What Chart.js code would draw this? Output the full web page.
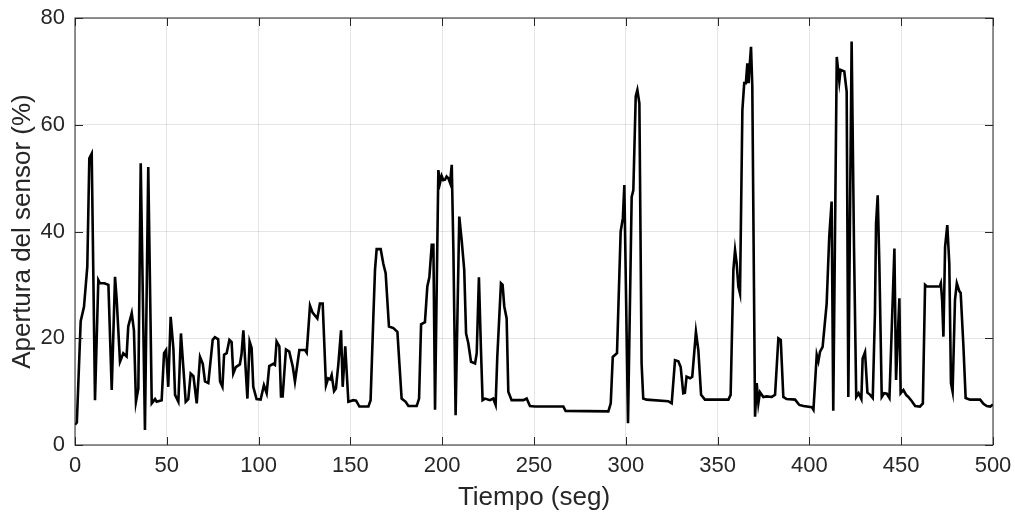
<!DOCTYPE html>
<html>
<head>
<meta charset="utf-8">
<script src="https://cdn.jsdelivr.net/npm/chart.js@4/dist/chart.umd.min.js"></script>
<style>
  html, body { margin: 0; padding: 0; background: #ffffff; }
  #wrap { width: 1015px; height: 517px; }
</style>
</head>
<body>
<div id="wrap"><canvas id="c" width="1015" height="517"></canvas></div>
<script>
// Tiempo (seg)
const tiempo = [
  0, 1, 3.1, 4.9, 6.7, 7.8, 9.1, 10.9, 12.7, 13.6, 16, 18.2, 20, 21.8, 22.7, 24.5, 26.3, 28.1, 29, 30.9,
  32.1, 33.2, 34.5, 35.8, 38.1, 39.9, 41.8, 43.6, 44.5, 47.2, 48.5, 49.6, 50.8, 52.1, 53.6, 54.5, 56.3, 57.7, 59, 60.3,
  61.7, 63, 64.5, 66.3, 68.1, 69.6, 70.8, 72.6, 75, 76.2, 78, 79, 80.3, 81.2, 82.6, 84.1, 85.3, 86.2, 87.6, 89.8,
  90.7, 91.7, 93.9, 95.1, 96.2, 97.1, 98.9, 101.1, 102.9, 104.4, 105.8, 108, 108.9, 109.8, 111.3, 112.2, 113.1, 114.9, 116.7, 118.6,
  119.8, 122.2, 125.3, 126.2, 128, 129.4, 132, 133.4, 134.9, 136.7, 137.9, 139, 139.8, 141.1, 142.1, 143.4, 144.9, 145.8, 147.2, 148.9,
  151.6, 153.1, 154.9, 159.8, 161, 162.5, 163.4, 164.3, 166.5, 167.9, 169.2, 171, 173.4, 175.6, 176.7, 177.9, 180.1, 181.6, 186.1, 187.4,
  188.5, 190.6, 191.9, 193, 194.3, 195.2, 196.1, 197.9, 198.8, 199.7, 200.6, 201.5, 202.4, 203.3, 204.3, 205.2, 206.1, 207.3, 209.3, 210.6,
  212, 213, 214.2, 215.7, 217.9, 218.8, 220, 221.1, 222, 223.3, 226, 227.8, 229.1, 230, 232, 232.9, 233.8, 235.1, 236, 237.8,
  240.5, 244.2, 246, 247.8, 250.5, 266, 267.2, 290.5, 291.8, 292.9, 295.2, 297.2, 298.4, 299.2, 301.2, 303.2, 304.1, 305.4, 306.3, 307.4,
  308.6, 309.5, 311.3, 323.1, 325, 326.8, 328.6, 329.9, 331.3, 332.2, 333.1, 335, 336.2, 338.2, 339.5, 341, 343.1, 355.9, 357.1, 358.6,
  359.5, 360.4, 361.3, 362.2, 363.5, 364.5, 365.4, 366.2, 366.9, 367.3, 368.2, 368.9, 370.4, 371.3, 372.2, 373.1, 374.9, 376.7, 379.5, 381.3,
  383.1, 384.4, 385.8, 387.6, 392.2, 394.5, 396.8, 401.3, 402.2, 404, 404.9, 405.8, 407.2, 409.4, 410.8, 412.1, 413, 414.9, 416.3, 417,
  419, 420.3, 421.2, 423, 424.3, 425.5, 426.8, 428.3, 429, 430.3, 431.6, 433.1, 434.5, 435.7, 436.3, 437.2, 438.1, 439.4, 440.7, 442.2,
  443.6, 446.3, 447.2, 449, 449.7, 451.2, 452.7, 453.9, 455.8, 457.6, 460.2, 461.8, 463, 464, 471, 471.6, 472.3, 473, 473.9, 475.1,
  476.2, 477.1, 478, 479.3, 480.3, 481.7, 482.4, 483.9, 485.1, 487.5, 493, 494.8, 496.6, 498.5, 500
];
// Apertura del sensor (%)
const apertura = [
  3.8, 4.2, 23.2, 25.9, 33.4, 53.7, 54.6, 8.4, 30.9, 30.3, 30.3, 30, 10.3, 31.5, 27.3, 15.6, 17.2, 16.6, 22.2, 24.7,
  21.5, 8.1, 10.6, 52.8, 2.8, 52.1, 7.8, 8.6, 8.1, 8.4, 17.2, 17.8, 10.9, 24.0, 18, 9.4, 8.1, 20.9, 14.6, 8.1,
  8.6, 13.4, 12.9, 7.8, 16.5, 15.2, 11.9, 11.6, 19.7, 20.2, 19.8, 11.9, 10.9, 16.9, 17.2, 19.7, 19.3, 13.4, 14.6, 15.1,
  17, 21.5, 8.7, 19.4, 18.2, 10.9, 8.6, 8.5, 11.2, 9.7, 14.8, 15.2, 15, 19.4, 18.5, 9.1, 9.1, 17.9, 17.5, 14.7,
  11.9, 17.8, 17.8, 17.3, 26.1, 24.8, 23.7, 26.5, 26.5, 11.2, 12.5, 12.3, 13.1, 10.1, 10.6, 15, 21.5, 10.9, 18.5, 8.1,
  8.4, 8.3, 7.2, 7.2, 8.4, 24, 32.8, 36.7, 36.7, 34, 32.2, 22.2, 21.9, 21.2, 15.2, 8.7, 8.1, 7.3, 7.3, 8.7,
  22.6, 23, 29.7, 31.4, 37.5, 37.5, 6.6, 51.5, 49.1, 50.4, 49.6, 49.7, 50.3, 50, 49.1, 52.5, 36.5, 5.6, 42.8, 38.4,
  32.8, 20.9, 19.1, 15.6, 15.3, 17.2, 31.4, 18, 8.4, 8.7, 8.4, 8.7, 7.5, 16.5, 30.3, 30, 26, 23.7, 10, 8.4,
  8.4, 8.4, 8.7, 7.3, 7.2, 7.2, 6.4, 6.3, 7.8, 16.5, 17.2, 40, 42.5, 48.7, 4.1, 46.5, 47.7, 65.3, 66.5, 64,
  15.3, 8.7, 8.5, 8.2, 7.8, 15.9, 15.7, 14.6, 9.7, 9.8, 12.8, 12.5, 12.8, 21.2, 17.8, 9.4, 8.5, 8.5, 9.4, 32.8,
  36.5, 34, 29.7, 28.4, 62.8, 67.8, 67.8, 71.5, 67.8, 70.3, 74.6, 67.2, 5.3, 11.6, 7.8, 9.9, 9.0, 9.1, 9.0, 9.4,
  20, 19.7, 9, 8.6, 8.5, 7.5, 7.3, 7.1, 6.6, 16.9, 15.7, 17.5, 18.4, 26.5, 39, 45.6, 6.4, 72.7, 68.1, 70.3,
  70, 66.2, 9, 75.6, 37, 9, 9.7, 8.6, 16.2, 17.4, 9.8, 9.4, 8.8, 24.7, 41.5, 46.8, 34, 9, 9.7, 9.6,
  8.8, 36.8, 12.2, 27.5, 9.7, 10.3, 9.4, 9, 8.2, 7.3, 7.2, 7.8, 30, 29.7, 29.7, 30.3, 27.1, 20.3, 37.1, 41.2,
  34, 11.6, 10, 27.2, 30.3, 28.8, 28.5, 18.4, 8.8, 8.5, 8.5, 7.7, 7.3, 7.2, 7.6
];
const xTicks = [0, 50, 100, 150, 200, 250, 300, 350, 400, 450, 500];
const yTicks = [0, 20, 40, 60, 80];
const xTitle = 'Tiempo (seg)';
const yTitle = 'Apertura del sensor (%)';

const points = tiempo.map((t, i) => ({ x: t, y: apertura[i] }));
const axisColor = '#262626';
const fontFamily = '"Liberation Sans", Arial, Helvetica, sans-serif';

const framePlugin = {
  id: 'matlabFrame',
  afterDatasetsDraw(chart) {
    const { ctx, chartArea: a, scales: { x, y } } = chart;
    ctx.save();
    ctx.strokeStyle = axisColor;
    ctx.lineWidth = 1;
    ctx.strokeRect(a.left, a.top, a.right - a.left, a.bottom - a.top);
    const L = 8;
    ctx.beginPath();
    xTicks.forEach(v => {
      const px = Math.round(x.getPixelForValue(v)) + 0.5;
      ctx.moveTo(px, a.bottom); ctx.lineTo(px, a.bottom - L);
      ctx.moveTo(px, a.top); ctx.lineTo(px, a.top + L);
    });
    yTicks.forEach(v => {
      const py = Math.round(y.getPixelForValue(v)) + 0.5;
      ctx.moveTo(a.left, py); ctx.lineTo(a.left + L, py);
      ctx.moveTo(a.right, py); ctx.lineTo(a.right - L, py);
    });
    ctx.stroke();
    ctx.restore();
  }
};

new Chart(document.getElementById('c'), {
  type: 'line',
  data: {
    datasets: [{
      data: points,
      borderColor: '#000000',
      borderWidth: 2.6,
      pointRadius: 0,
      tension: 0,
      fill: false
    }]
  },
  options: {
    responsive: false,
    animation: false,
    layout: { padding: { top: 18, right: 22, left: 0, bottom: 0 } },
    plugins: { legend: { display: false }, tooltip: { enabled: false } },
    scales: {
      x: {
        type: 'linear',
        min: 0, max: 500,
        afterBuildTicks(scale) { scale.ticks = xTicks.map(v => ({ value: v })); },
        afterFit(scale) { scale.height = 72; scale.paddingLeft = 0; scale.paddingRight = 0; },
        grid: { color: 'rgba(0,0,0,0.1)', drawTicks: false, lineWidth: 1 },
        border: { display: false },
        ticks: { color: axisColor, padding: 8, maxRotation: 0, autoSkip: false, font: { family: fontFamily, size: 22 } },
        title: { display: true, text: xTitle, color: axisColor, padding: { top: 0, bottom: 4 }, font: { family: fontFamily, size: 26 } }
      },
      y: {
        min: 0, max: 80,
        afterBuildTicks(scale) { scale.ticks = yTicks.map(v => ({ value: v })); },
        afterFit(scale) { scale.width = 75; scale.paddingTop = 0; scale.paddingBottom = 0; },
        grid: { color: 'rgba(0,0,0,0.1)', drawTicks: false, lineWidth: 1 },
        border: { display: false },
        ticks: { color: axisColor, padding: 10, font: { family: fontFamily, size: 22 } },
        title: { display: true, text: yTitle, color: axisColor, padding: { top: 7, bottom: 0 }, font: { family: fontFamily, size: 26 } }
      }
    }
  },
  plugins: [framePlugin]
});
</script>
</body>
</html>
